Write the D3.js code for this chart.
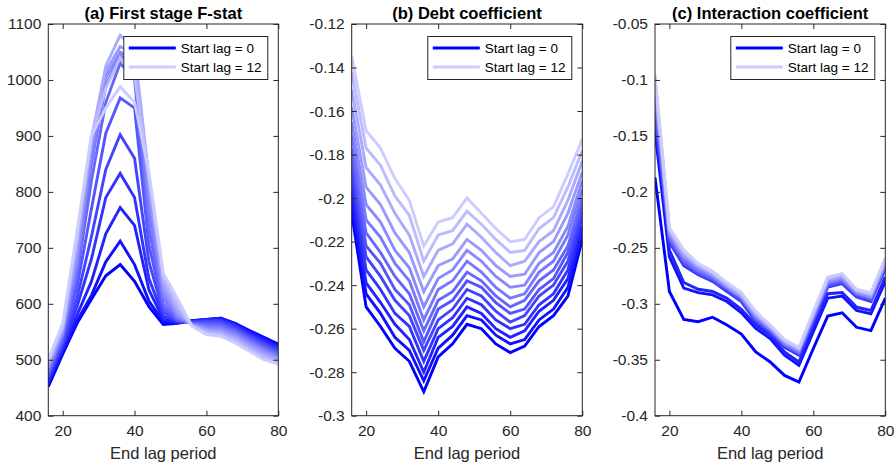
<!DOCTYPE html>
<html><head><meta charset="utf-8">
<script src="https://cdn.jsdelivr.net/npm/d3@7"></script>
<style>
body{margin:0;background:#fff;}
svg{display:block;font-family:"Liberation Sans",Arial,Helvetica,sans-serif;}
</style></head>
<body><svg id="chart" width="894" height="468"></svg>
<script>
const endLag = [16,20,24,28,32,36,40,44,48,52,56,60,64,68,72,76,80];
const startLags = [0,1,2,3,4,5,6,7,8,9,10,11,12];
const xTicks = [20,40,60,80];

const fstatSeries = [
 [452,510,565,608,650,670,640,595,563,565,570,572,574,565,552,540,528],
 [458,515,570,615,675,712,670,605,568,566,570,572,574,564,550,538,525],
 [462,520,580,640,725,772,740,625,572,567,569,571,572,562,548,535,522],
 [466,525,595,680,790,833,790,645,578,568,568,570,570,560,545,532,519],
 [470,530,610,720,840,902,860,675,585,569,567,568,568,557,542,529,516],
 [474,535,630,770,905,968,950,705,592,570,566,566,565,554,539,526,513],
 [478,540,650,820,960,1030,1000,735,600,572,565,563,562,551,536,522,510],
 [482,545,665,850,990,1045,1020,765,610,575,564,560,558,548,533,519,507],
 [486,548,680,870,1005,1050,1035,790,620,578,563,557,555,545,530,516,504],
 [490,552,695,885,1015,1060,1045,810,630,584,562,554,551,541,526,512,501],
 [494,556,710,895,1025,1080,1055,825,640,590,561,551,548,538,522,508,498],
 [497,560,720,900,985,1040,1005,830,648,598,560,548,545,534,518,504,495],
 [500,565,730,900,950,988,960,835,655,608,560,545,542,530,515,500,492]
];
const fstatTicks = [400,500,600,700,800,900,1000,1100];

const debtSeries = [
 [-0.207,-0.250,-0.259,-0.269,-0.275,-0.289,-0.273,-0.267,-0.258,-0.260,-0.267,-0.271,-0.268,-0.259,-0.254,-0.245,-0.219],
 [-0.202,-0.244,-0.253,-0.264,-0.270,-0.284,-0.269,-0.263,-0.254,-0.256,-0.263,-0.267,-0.265,-0.256,-0.251,-0.241,-0.216],
 [-0.197,-0.239,-0.248,-0.258,-0.265,-0.280,-0.264,-0.259,-0.250,-0.253,-0.260,-0.264,-0.261,-0.252,-0.247,-0.237,-0.213],
 [-0.192,-0.233,-0.242,-0.253,-0.259,-0.275,-0.260,-0.255,-0.246,-0.249,-0.256,-0.260,-0.258,-0.249,-0.244,-0.233,-0.209],
 [-0.187,-0.227,-0.236,-0.247,-0.254,-0.270,-0.256,-0.251,-0.242,-0.245,-0.252,-0.257,-0.254,-0.245,-0.240,-0.229,-0.206],
 [-0.182,-0.222,-0.230,-0.242,-0.249,-0.266,-0.251,-0.247,-0.238,-0.241,-0.248,-0.253,-0.251,-0.242,-0.237,-0.225,-0.203],
 [-0.177,-0.216,-0.225,-0.236,-0.244,-0.261,-0.247,-0.243,-0.234,-0.238,-0.245,-0.250,-0.247,-0.238,-0.233,-0.222,-0.200],
 [-0.171,-0.210,-0.218,-0.230,-0.238,-0.256,-0.242,-0.238,-0.229,-0.234,-0.241,-0.246,-0.244,-0.234,-0.229,-0.217,-0.196],
 [-0.165,-0.203,-0.211,-0.224,-0.232,-0.250,-0.237,-0.233,-0.224,-0.229,-0.236,-0.241,-0.240,-0.230,-0.225,-0.213,-0.192],
 [-0.158,-0.195,-0.203,-0.216,-0.225,-0.243,-0.231,-0.228,-0.219,-0.224,-0.231,-0.236,-0.235,-0.225,-0.220,-0.207,-0.188],
 [-0.150,-0.186,-0.194,-0.207,-0.217,-0.236,-0.224,-0.221,-0.212,-0.218,-0.225,-0.231,-0.229,-0.220,-0.215,-0.201,-0.183],
 [-0.142,-0.177,-0.185,-0.199,-0.208,-0.229,-0.217,-0.215,-0.206,-0.212,-0.219,-0.225,-0.224,-0.214,-0.209,-0.195,-0.178],
 [-0.135,-0.169,-0.177,-0.191,-0.201,-0.222,-0.211,-0.209,-0.200,-0.207,-0.214,-0.220,-0.219,-0.209,-0.204,-0.189,-0.173]
];
const debtTicks = [-0.3,-0.28,-0.26,-0.24,-0.22,-0.2,-0.18,-0.16,-0.14,-0.12];

const interactionSeries = [
 [-0.187,-0.289,-0.314,-0.316,-0.312,-0.319,-0.327,-0.343,-0.352,-0.364,-0.370,-0.340,-0.311,-0.308,-0.321,-0.324,-0.295],
 [-0.146,-0.258,-0.286,-0.290,-0.292,-0.298,-0.308,-0.322,-0.331,-0.346,-0.355,-0.325,-0.295,-0.293,-0.306,-0.309,-0.280],
 [-0.124,-0.252,-0.281,-0.287,-0.289,-0.295,-0.305,-0.319,-0.328,-0.343,-0.352,-0.321,-0.291,-0.290,-0.303,-0.306,-0.276],
 [-0.133,-0.245,-0.266,-0.274,-0.280,-0.289,-0.298,-0.316,-0.326,-0.339,-0.346,-0.316,-0.285,-0.282,-0.294,-0.298,-0.269],
 [-0.128,-0.244,-0.264,-0.273,-0.279,-0.288,-0.297,-0.315,-0.325,-0.338,-0.345,-0.315,-0.284,-0.281,-0.293,-0.297,-0.268],
 [-0.122,-0.242,-0.263,-0.272,-0.278,-0.287,-0.296,-0.314,-0.324,-0.337,-0.344,-0.314,-0.283,-0.280,-0.292,-0.296,-0.267],
 [-0.117,-0.241,-0.261,-0.271,-0.277,-0.286,-0.295,-0.313,-0.323,-0.336,-0.343,-0.313,-0.282,-0.279,-0.291,-0.295,-0.266],
 [-0.112,-0.239,-0.260,-0.270,-0.276,-0.285,-0.294,-0.312,-0.323,-0.336,-0.343,-0.312,-0.281,-0.278,-0.291,-0.294,-0.265],
 [-0.108,-0.238,-0.258,-0.268,-0.275,-0.285,-0.294,-0.311,-0.322,-0.335,-0.342,-0.311,-0.280,-0.277,-0.290,-0.294,-0.264],
 [-0.104,-0.236,-0.257,-0.267,-0.274,-0.284,-0.293,-0.310,-0.321,-0.334,-0.341,-0.310,-0.279,-0.276,-0.289,-0.293,-0.263],
 [-0.100,-0.235,-0.255,-0.266,-0.273,-0.283,-0.292,-0.309,-0.320,-0.333,-0.340,-0.309,-0.278,-0.275,-0.288,-0.292,-0.262],
 [-0.097,-0.233,-0.254,-0.265,-0.272,-0.282,-0.291,-0.308,-0.320,-0.333,-0.340,-0.308,-0.277,-0.274,-0.288,-0.291,-0.261],
 [-0.095,-0.232,-0.252,-0.264,-0.271,-0.281,-0.290,-0.307,-0.319,-0.332,-0.339,-0.307,-0.276,-0.273,-0.287,-0.290,-0.259]
];
const interactionTicks = [-0.4,-0.35,-0.3,-0.25,-0.2,-0.15,-0.1,-0.05];

const panels = [
 {title:"(a) First stage F-stat", series:fstatSeries, ticks:fstatTicks, domain:[400,1100], left:48.3, right:278.3},
 {title:"(b) Debt coefficient", series:debtSeries, ticks:debtTicks, domain:[-0.3,-0.12], left:351.7, right:582.3},
 {title:"(c) Interaction coefficient", series:interactionSeries, ticks:interactionTicks, domain:[-0.4,-0.05], left:655, right:885.3}
];
const plotTop = 24, plotBottom = 415.7;
const axisColor = "#262626";
const colorScale = d3.scaleLinear().domain([0,12]).range(["rgb(0,0,255)","rgb(204,204,255)"]);

const svg = d3.select("#chart");

panels.forEach((p, pi) => {
  const x = d3.scaleLinear().domain([16,80]).range([p.left, p.right]);
  const y = d3.scaleLinear().domain(p.domain).range([plotBottom, plotTop]);
  const g = svg.append("g");
  const cid = "clip" + pi;
  svg.append("clipPath").attr("id", cid).append("rect")
    .attr("x", p.left).attr("y", plotTop).attr("width", p.right - p.left).attr("height", plotBottom - plotTop);

  const line = d3.line().x((d,i) => x(endLag[i])).y(d => y(d));
  g.append("g").attr("clip-path", `url(#${cid})`)
    .selectAll("path").data(p.series).join("path")
    .attr("d", line)
    .attr("fill","none")
    .attr("stroke",(d,i) => colorScale(startLags[i]))
    .attr("stroke-width",2.9)
    .attr("stroke-linejoin","miter")
    .attr("stroke-miterlimit",4);

  const fmt = d => String(+d.toFixed(2));
  const ax = g.append("g").attr("transform",`translate(0,${plotBottom})`)
    .call(d3.axisBottom(x).tickValues(xTicks).tickSize(-5).tickPadding(9).tickFormat(d3.format("d")));
  const axT = g.append("g").attr("transform",`translate(0,${plotTop})`)
    .call(d3.axisTop(x).tickValues(xTicks).tickSize(-5).tickFormat(""));
  const ay = g.append("g").attr("transform",`translate(${p.left},0)`)
    .call(d3.axisLeft(y).tickValues(p.ticks).tickSize(-5).tickPadding(7).tickFormat(fmt));
  const ayR = g.append("g").attr("transform",`translate(${p.right},0)`)
    .call(d3.axisRight(y).tickValues(p.ticks).tickSize(-5).tickFormat(""));
  [ax, axT, ay, ayR].forEach(a => {
    a.select(".domain").remove();
    a.selectAll(".tick line").attr("stroke", axisColor).attr("stroke-width",1);
    a.selectAll(".tick text").attr("fill", axisColor).attr("font-size",15.5)
      .attr("font-family",'"Liberation Sans",Arial,sans-serif');
  });
  g.append("rect").attr("x",p.left).attr("y",plotTop).attr("width",p.right-p.left).attr("height",plotBottom-plotTop)
    .attr("fill","none").attr("stroke",axisColor).attr("stroke-width",1);

  g.append("text").attr("x",(p.left+p.right)/2).attr("y",459)
    .attr("text-anchor","middle").attr("font-size",16.5).attr("fill",axisColor)
    .text("End lag period");
  g.append("text").attr("x",(p.left+p.right)/2).attr("y",19)
    .attr("text-anchor","middle").attr("font-size",16.5).attr("font-weight","bold").attr("fill","#000")
    .text(p.title);

  const lw = 144, lh = 43;
  const lx = p.right - 10.5 - lw, ly = 36.5;
  const lg = g.append("g");
  lg.append("rect").attr("x",lx).attr("y",ly).attr("width",lw).attr("height",lh)
    .attr("fill","#fff").attr("stroke",axisColor).attr("stroke-width",1);
  [0,12].forEach((k,j) => {
    const yy = ly + 11.5 + j*19;
    lg.append("line").attr("x1",lx+5).attr("x2",lx+52).attr("y1",yy).attr("y2",yy)
      .attr("stroke",colorScale(k)).attr("stroke-width",2.9);
    lg.append("text").attr("x",lx+57).attr("y",yy+5).attr("font-size",13.5).attr("fill","#000")
      .text("Start lag = " + k);
  });
});
</script></body></html>
